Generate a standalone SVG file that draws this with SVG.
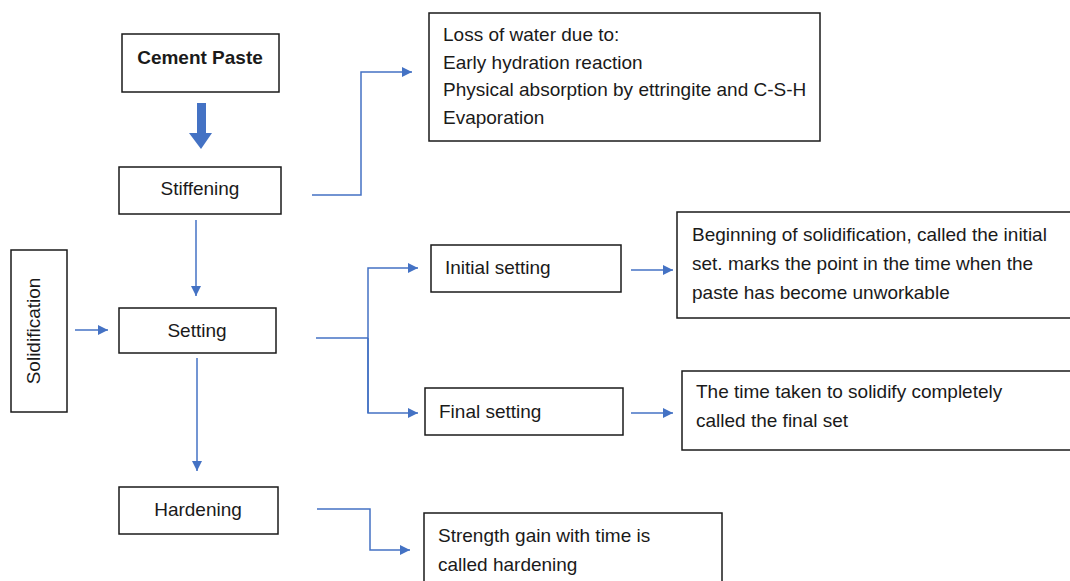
<svg xmlns="http://www.w3.org/2000/svg" width="1070" height="581" viewBox="0 0 1070 581">
<style>
.box{fill:#fff;stroke:#1a1a1a;stroke-width:1.5}
.t{font-family:"Liberation Sans",Arial,sans-serif;font-size:19px;fill:#1a1a1a}
.c{fill:none;stroke:#4472C4;stroke-width:1.5}
</style>
<defs>
<marker id="ah" viewBox="0 0 10 10" refX="10" refY="5" markerWidth="11" markerHeight="10" markerUnits="userSpaceOnUse" orient="auto">
<path d="M0,0 L10,5 L0,10 z" fill="#4472C4"/>
</marker>
</defs>
<rect width="1070" height="581" fill="#fff"/>
<g id="connectors">
<path d="M197,103 H206 V133 H212 L201,149 L189,133 H197 Z" fill="#4472C4"/>
<path class="c" d="M312,195 H361 V72 H412" marker-end="url(#ah)"/>
<path class="c" d="M196,220 V296" marker-end="url(#ah)"/>
<path class="c" d="M75,330 H108" marker-end="url(#ah)"/>
<path class="c" d="M197,358 V471" marker-end="url(#ah)"/>
<path class="c" d="M316,338 H368"/>
<path class="c" d="M368,413 V268 H418" marker-end="url(#ah)"/>
<path class="c" d="M368,338 V413 H418" marker-end="url(#ah)"/>
<path class="c" d="M631,270 H673" marker-end="url(#ah)"/>
<path class="c" d="M631,413 H673" marker-end="url(#ah)"/>
<path class="c" d="M317,509 H370 V550 H410" marker-end="url(#ah)"/>
</g>
<g id="cement-paste">
<rect class="box" x="122" y="34" width="157" height="58"/>
<text class="t" x="200" y="64" text-anchor="middle" font-weight="bold" font-size="18">Cement Paste</text>
</g>
<g id="stiffening">
<rect class="box" x="119" y="167" width="162" height="47"/>
<text class="t" x="200" y="195" text-anchor="middle">Stiffening</text>
</g>
<g id="loss-of-water">
<rect class="box" x="429" y="13" width="391" height="128"/>
<text class="t" x="443" y="41">Loss of water due to:</text>
<text class="t" x="443" y="69">Early hydration reaction</text>
<text class="t" x="443" y="96">Physical absorption by ettringite and C-S-H</text>
<text class="t" x="443" y="124">Evaporation</text>
</g>
<g id="solidification">
<rect class="box" x="11" y="250" width="56" height="162"/>
<text class="t" transform="translate(40,331) rotate(-90)" text-anchor="middle" font-size="20">Solidification</text>
</g>
<g id="setting">
<rect class="box" x="119" y="308" width="157" height="45"/>
<text class="t" x="197" y="337" text-anchor="middle">Setting</text>
</g>
<g id="hardening">
<rect class="box" x="119" y="487" width="159" height="47"/>
<text class="t" x="198" y="516" text-anchor="middle">Hardening</text>
</g>
<g id="initial-setting">
<rect class="box" x="431" y="245" width="190" height="47"/>
<text class="t" x="445" y="274">Initial setting</text>
</g>
<g id="final-setting">
<rect class="box" x="425" y="388" width="198" height="47"/>
<text class="t" x="439" y="418">Final setting</text>
</g>
<g id="initial-set-desc">
<rect class="box" x="677" y="212" width="400" height="106"/>
<text class="t" x="692" y="241">Beginning of solidification, called the initial</text>
<text class="t" x="692" y="270">set. marks the point in the time when the</text>
<text class="t" x="692" y="299">paste has become unworkable</text>
</g>
<g id="final-set-desc">
<rect class="box" x="682" y="371" width="400" height="79"/>
<text class="t" x="696" y="398">The time taken to solidify completely</text>
<text class="t" x="696" y="427">called the final set</text>
</g>
<g id="hardening-desc">
<rect class="box" x="424" y="513" width="298" height="80"/>
<text class="t" x="438" y="542">Strength gain with time is</text>
<text class="t" x="438" y="571">called hardening</text>
</g>
</svg>
